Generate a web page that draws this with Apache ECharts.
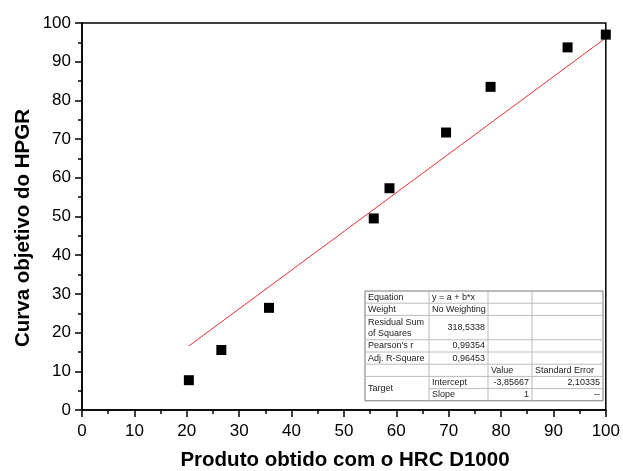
<!DOCTYPE html>
<html>
<head>
<meta charset="utf-8">
<script src="https://cdn.jsdelivr.net/npm/echarts@6/dist/echarts.min.js"></script>
<style>
html,body{margin:0;padding:0;background:#fff;}
#chart{width:623px;height:471px;}
</style>
</head>
<body>
<div id="chart"></div>
<script>
// Data
var pointsX = [20.4, 26.6, 35.7, 55.7, 58.7, 69.5, 78.0, 92.7, 100.0];
var pointsY = [7.7, 15.5, 26.4, 49.5, 57.3, 71.7, 83.5, 93.7, 97.0];
var fitX = [20.4, 100];
var fitY = [16.54, 96.14];
var xTitle = 'Produto obtido com o HRC D1000';
var yTitle = 'Curva objetivo do HPGR';
// Fit statistics table
var tableRows = [
  ['Equation', 'y = a + b*x', '', ''],
  ['Weight', 'No Weighting', '', ''],
  ['Residual Sum\nof Squares', '318,5338', '', ''],
  ["Pearson's r", '0,99354', '', ''],
  ['Adj. R-Square', '0,96453', '', ''],
  ['', '', 'Value', 'Standard Error'],
  ['Target', 'Intercept', '-3,85667', '2,10335'],
  ['', 'Slope', '1', '--']
];
var rowUnits = [1, 1, 2, 1, 1, 1, 1, 1];
var cellAlign = [
  ['l','l','l','l'],
  ['l','l','l','l'],
  ['l','r','l','l'],
  ['l','r','l','l'],
  ['l','r','l','l'],
  ['l','l','l','l'],
  ['l','l','r','r'],
  ['l','l','r','r']
];

var scatterData = pointsX.map(function(x, i){ return [x, pointsY[i]]; });
var fitData = fitX.map(function(x, i){ return [x, fitY[i]]; });

// table layout
var tLeft = 365, tTop = 291, unitH = 12.2;
var colX = [365, 429, 488, 532, 603];
var graphics = [];
var rowTops = [];
var yy = tTop;
for (var r = 0; r < rowUnits.length; r++) { rowTops.push(yy); yy += rowUnits[r] * unitH; }
var tBottom = yy;
graphics.push({type:'rect', shape:{x:tLeft, y:tTop, width:colX[4]-tLeft, height:tBottom-tTop},
  style:{fill:'#fff', stroke:'#777', lineWidth:1}, z:10});
for (var c = 1; c < 4; c++) {
  graphics.push({type:'line', shape:{x1:colX[c], y1:tTop, x2:colX[c], y2:tBottom},
    style:{stroke:'#bbb', lineWidth:1}, z:11});
}
for (var r2 = 1; r2 < rowUnits.length; r2++) {
  var x1 = (r2 === 7) ? colX[1] : tLeft;
  graphics.push({type:'line', shape:{x1:x1, y1:rowTops[r2], x2:colX[4], y2:rowTops[r2]},
    style:{stroke:'#bbb', lineWidth:1}, z:11});
}
for (var r3 = 0; r3 < tableRows.length; r3++) {
  for (var c3 = 0; c3 < 4; c3++) {
    var txt = tableRows[r3][c3];
    if (!txt) continue;
    var h = rowUnits[r3] * unitH;
    var cy = rowTops[r3] + h / 2;
    if (r3 === 6 && c3 === 0) cy = rowTops[6] + unitH;
    var al = cellAlign[r3][c3];
    var tx = al === 'l' ? colX[c3] + 3 : colX[c3 + 1] - 3;
    graphics.push({type:'text', x:tx, y:cy, z:12,
      style:{text:txt, fill:'#222', font:'9px "Liberation Sans", Arial, sans-serif',
        textAlign: al === 'l' ? 'left' : 'right', textVerticalAlign:'middle', lineHeight:11}});
  }
}
// axis titles
graphics.push({type:'text', x:345, y:460, z:5,
  style:{text:xTitle, fill:'#000', font:'bold 20.5px "Liberation Sans", Arial, sans-serif',
    textAlign:'center', textVerticalAlign:'middle'}});
graphics.push({type:'text', x:23, y:228, rotation:Math.PI/2, z:5,
  style:{text:yTitle, fill:'#000', font:'bold 20.5px "Liberation Sans", Arial, sans-serif',
    textAlign:'center', textVerticalAlign:'middle'}});

var chart = echarts.init(document.getElementById('chart'), null, {renderer:'canvas'});
var axisFont = {color:'#000', fontSize:17, fontFamily:'"Liberation Sans", Arial, sans-serif'};
chart.setOption({
  animation:false,
  backgroundColor:'#fff',
  grid:{left:82, right:16, top:23, bottom:61, show:true, borderColor:'#000', borderWidth:1.5, backgroundColor:'transparent'},
  xAxis:{type:'value', min:0, max:100, interval:10,
    axisLine:{show:true, onZero:false, lineStyle:{color:'#000', width:1.5}},
    axisTick:{show:true, inside:false, length:7, lineStyle:{color:'#000', width:1.5}},
    minorTick:{show:true, splitNumber:2, length:4, lineStyle:{color:'#000', width:1.5}},
    splitLine:{show:false},
    axisLabel:Object.assign({margin:13}, axisFont)},
  yAxis:{type:'value', min:0, max:100, interval:10,
    axisLine:{show:true, onZero:false, lineStyle:{color:'#000', width:1.5}},
    axisTick:{show:true, inside:false, length:7, lineStyle:{color:'#000', width:1.5}},
    minorTick:{show:true, splitNumber:2, length:4, lineStyle:{color:'#000', width:1.5}},
    splitLine:{show:false},
    axisLabel:Object.assign({margin:11}, axisFont)},
  series:[
    {type:'line', data:fitData, showSymbol:false, symbol:'none',
      lineStyle:{color:'#e8302f', width:1}, z:2, silent:true},
    {type:'scatter', data:scatterData, symbol:'rect', symbolSize:10,
      itemStyle:{color:'#000', opacity:1}, z:3, clip:false}
  ],
  graphic:graphics
});
</script>
</body>
</html>
